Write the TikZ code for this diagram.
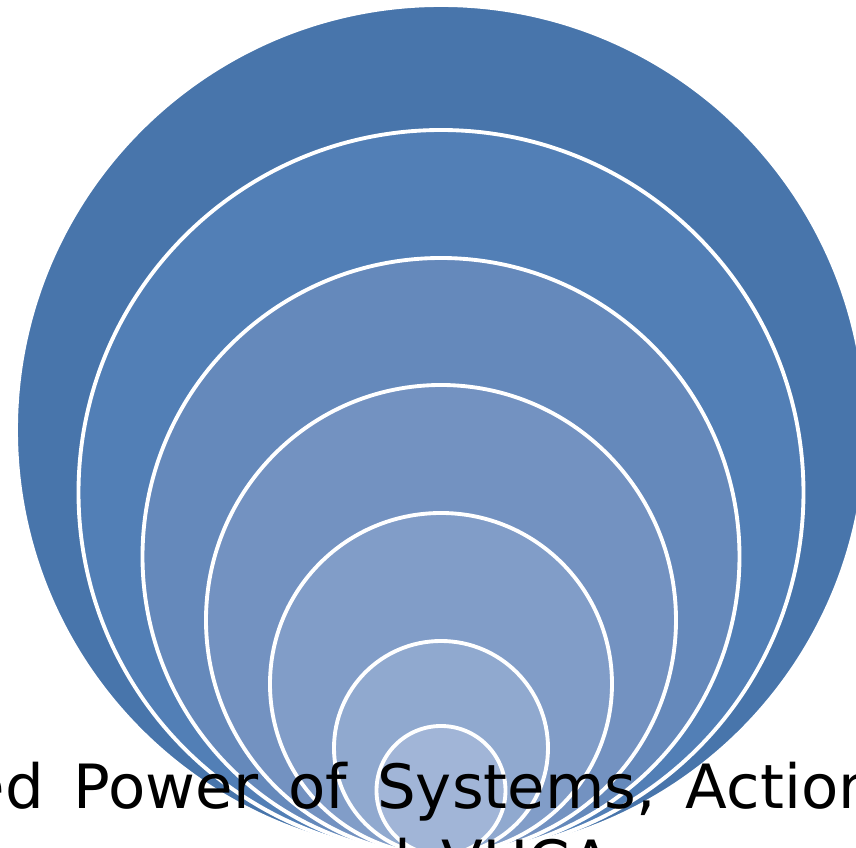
\documentclass[tikz,border=0pt]{standalone}
\usepackage{fontspec}
\newfontfamily\labelfont{DejaVu Sans}
\usetikzlibrary{positioning}

% shades of the rings, from the outside in
\definecolor{ring1}{RGB}{72,117,171}
\definecolor{ring2}{RGB}{82,127,182}
\definecolor{ring3}{RGB}{101,137,187}
\definecolor{ring4}{RGB}{115,146,193}
\definecolor{ring5}{RGB}{129,157,200}
\definecolor{ring6}{RGB}{144,169,207}
\definecolor{ring7}{RGB}{161,181,215}

\newcommand\captionfont{\labelfont\fontsize{17.36pt}{20pt}\selectfont
  \spaceskip=0.30cm\relax}

\begin{document}
\begin{tikzpicture}[%
    ring/.style={draw=white, line width=1.1pt},
    caption/.style={font=\captionfont, text=black, inner sep=0pt,
      anchor=base west}
  ]
  \useasboundingbox (0,0) rectangle (8.56,8.48);
  \clip (0,0) rectangle (8.56,8.48);

  % nested circles, all touching at the bottom
  \foreach \r/\c in {4.25/ring1, 3.625/ring2, 2.985/ring3, 2.35/ring4,
                     1.71/ring5, 1.07/ring6, 0.645/ring7}
    \path[ring, fill=\c] (4.41,-0.07+\r) circle (\r);

  \node[caption] (line1) at (-0.33,0.39) {ed Power of Systems, Actions};
  \node[caption] (line2) at (2.96,-0.37) {and VUCA};

\end{tikzpicture}
\end{document}
